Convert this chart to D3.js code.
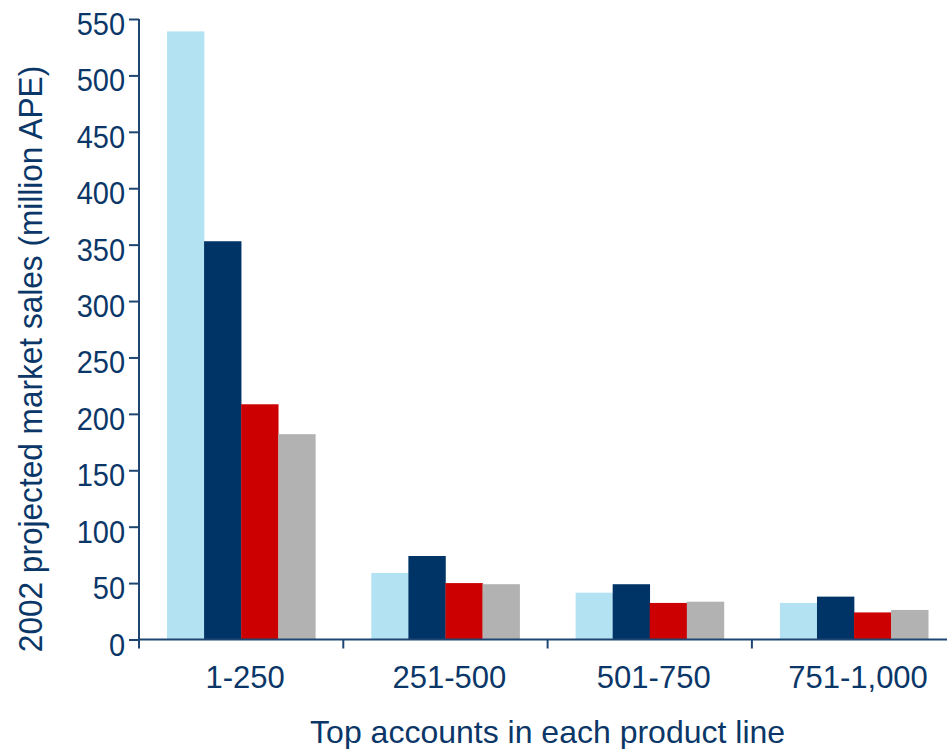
<!DOCTYPE html>
<html>
<head>
<meta charset="utf-8">
<script src="https://cdn.jsdelivr.net/npm/d3@7/dist/d3.min.js"></script>
<style>
  html, body { margin: 0; padding: 0; background: #ffffff; }
  svg { display: block; }
  text { font-family: "Liberation Sans", Arial, sans-serif; fill: #0b3768; }
</style>
</head>
<body>
<svg id="chart" width="947" height="749"></svg>
<script>
// Account bands (x categories)
const categories = ["1-250", "251-500", "501-750", "751-1,000"];
// Four product-line series, one value per band (million APE)
const seriesA = [539, 59, 41.5, 32.4];
const seriesB = [353, 74, 49, 38];
const seriesC = [208.5, 50, 32.4, 24];
const seriesD = [182, 49, 33.5, 26.2];
const seriesNames = ["A", "B", "C", "D"];
const seriesColors = ["#b3e3f2", "#003366", "#cc0000", "#b2b2b2"];
const yTicks = [0, 50, 100, 150, 200, 250, 300, 350, 400, 450, 500, 550];

const seriesValues = [seriesA, seriesB, seriesC, seriesD];
const rows = categories.map((c, i) => ({
  cat: c,
  vals: seriesNames.map((s, j) => ({ key: s, value: seriesValues[j][i], color: seriesColors[j] }))
}));

const svg = d3.select("#chart");
const axisColor = "#1f4673";

const x0 = 139, yBase = 639.5, yTop = 19;
const bandW = 204.3;

const x = d3.scaleBand()
  .domain(categories)
  .range([x0, x0 + bandW * categories.length])
  .paddingInner(0)
  .paddingOuter(0);

const xInner = d3.scaleBand()
  .domain(seriesNames)
  .range([28, bandW - 28])
  .padding(0);

const y = d3.scaleLinear().domain([0, 550]).range([yBase, yTop]);

// Bars
const groups = svg.append("g").selectAll("g")
  .data(rows)
  .join("g")
  .attr("transform", d => `translate(${x(d.cat)},0)`);

groups.selectAll("rect")
  .data(d => d.vals)
  .join("rect")
  .attr("x", d => xInner(d.key))
  .attr("width", xInner.bandwidth() + 0.3)
  .attr("y", d => y(d.value))
  .attr("height", d => yBase - y(d.value))
  .attr("fill", d => d.color);

// Y axis
const yAxis = svg.append("g")
  .attr("transform", `translate(${x0},0)`)
  .call(d3.axisLeft(y).tickValues(yTicks).tickSize(10).tickPadding(4).tickSizeOuter(0));
yAxis.select(".domain").attr("stroke", axisColor).attr("stroke-width", 2)
  .attr("d", `M0,${yTop}V${yBase}`);
yAxis.selectAll(".tick line").attr("stroke", axisColor).attr("stroke-width", 2);
yAxis.selectAll(".tick text")
  .style("font-size", "29px")
  .attr("dy", null)
  .attr("y", 0)
  .attr("transform", "translate(0,15.5) scale(1,1.07)")
  .attr("fill", "#0b3768");

// X axis baseline with tick marks at band boundaries
const xEnd = 947;
svg.append("line")
  .attr("x1", x0).attr("x2", xEnd)
  .attr("y1", yBase).attr("y2", yBase)
  .attr("stroke", axisColor).attr("stroke-width", 2);

const boundaries = categories.map(c => x(c));
svg.append("g").selectAll("line")
  .data(boundaries)
  .join("line")
  .attr("x1", d => d).attr("x2", d => d)
  .attr("y1", yBase).attr("y2", yBase + 9)
  .attr("stroke", axisColor).attr("stroke-width", 2);

// Category labels
svg.append("g").selectAll("text")
  .data(categories)
  .join("text")
  .attr("x", d => x(d) + x.bandwidth() / 2 + 4)
  .attr("y", 688)
  .attr("text-anchor", "middle")
  .style("font-size", "31px")
  .text(d => d);

// Axis titles
svg.append("text")
  .attr("x", x0 + bandW * 2)
  .attr("y", 743)
  .attr("text-anchor", "middle")
  .style("font-size", "32px")
  .text("Top accounts in each product line");

svg.append("text")
  .attr("transform", "translate(41.5,359) rotate(-90) scale(1,1.08)")
  .attr("text-anchor", "middle")
  .style("font-size", "31.6px")
  .text("2002 projected market sales (million APE)");
</script>
</body>
</html>
